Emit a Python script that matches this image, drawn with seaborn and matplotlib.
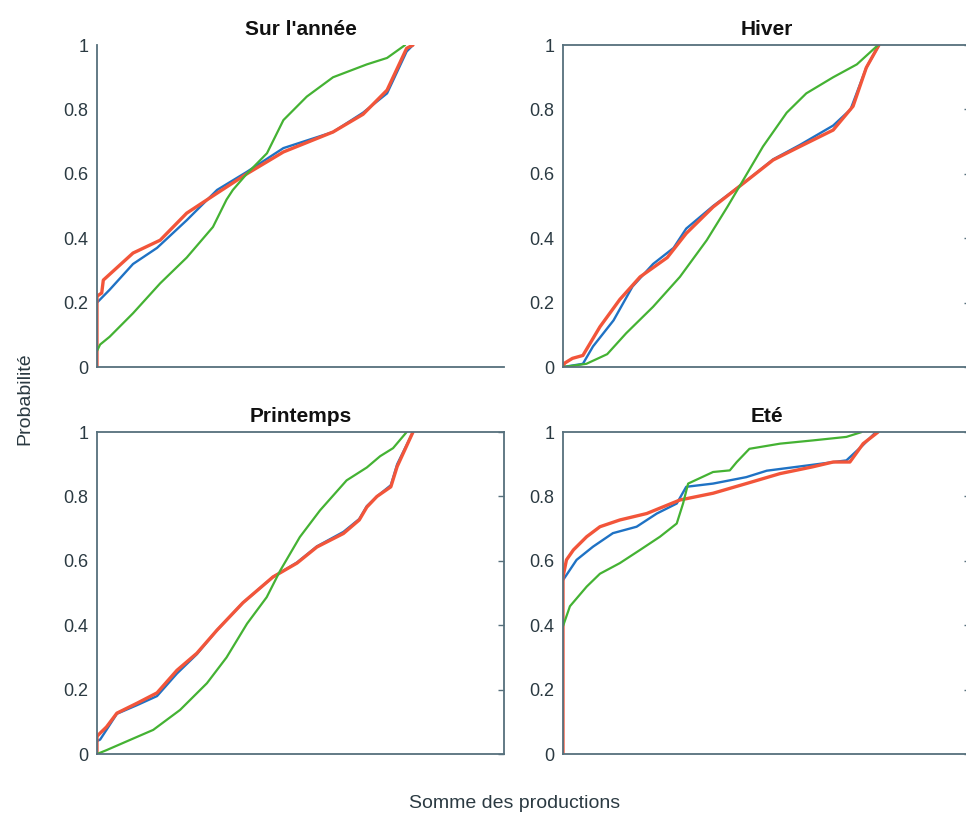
import pandas as pd
import numpy as np
import matplotlib.pyplot as plt
import seaborn as sns

sns.set_style("white")
plt.rcParams['font.family'] = ['Liberation Sans', 'DejaVu Sans']

titles = ["Sur l'année", "Hiver", "Printemps", "Eté"]

# Sur l'année
an_blue_x = [0.0, 0.04, 0.114, 0.19, 0.284, 0.38, 0.474, 0.59, 0.747, 0.842, 0.918, 0.98, 1.0]
an_blue_y = [0.20, 0.24, 0.32, 0.37, 0.456, 0.55, 0.606, 0.68, 0.73, 0.79, 0.85, 0.98, 1.0]
an_red_x = [0.0, 0.0, 0.015, 0.02, 0.114, 0.2, 0.284, 0.38, 0.474, 0.59, 0.747, 0.842, 0.918, 0.98, 1.0]
an_red_y = [0.0, 0.22, 0.23, 0.27, 0.354, 0.394, 0.478, 0.54, 0.60, 0.668, 0.73, 0.785, 0.86, 0.99, 1.0]
an_green_x = [0.0, 0.01, 0.04, 0.114, 0.2, 0.284, 0.367, 0.41, 0.43, 0.474, 0.538, 0.59, 0.664, 0.747, 0.854, 0.918, 0.975]
an_green_y = [0.05, 0.07, 0.094, 0.167, 0.26, 0.34, 0.435, 0.52, 0.55, 0.60, 0.664, 0.767, 0.84, 0.90, 0.94, 0.96, 1.0]

# Hiver
hi_blue_x = [0.0, 0.063, 0.095, 0.16, 0.22, 0.285, 0.35, 0.39, 0.475, 0.57, 0.665, 0.75, 0.855, 0.91, 0.96, 1.0]
hi_blue_y = [0.0, 0.01, 0.064, 0.145, 0.25, 0.32, 0.37, 0.43, 0.50, 0.57, 0.645, 0.69, 0.75, 0.80, 0.93, 1.0]
hi_red_x = [0.0, 0.005, 0.03, 0.063, 0.117, 0.18, 0.244, 0.33, 0.39, 0.475, 0.57, 0.665, 0.75, 0.855, 0.918, 0.96, 1.0]
hi_red_y = [0.0, 0.012, 0.027, 0.036, 0.125, 0.21, 0.28, 0.34, 0.415, 0.497, 0.57, 0.643, 0.685, 0.736, 0.81, 0.93, 1.0]
hi_green_x = [0.0, 0.074, 0.14, 0.2, 0.285, 0.37, 0.455, 0.52, 0.57, 0.633, 0.708, 0.77, 0.855, 0.93, 0.997]
hi_green_y = [0.0, 0.01, 0.04, 0.105, 0.187, 0.28, 0.394, 0.497, 0.58, 0.685, 0.79, 0.85, 0.90, 0.94, 1.0]

# Printemps
pr_blue_x = [0.0, 0.01, 0.03, 0.063, 0.127, 0.19, 0.253, 0.316, 0.38, 0.462, 0.557, 0.633, 0.696, 0.78, 0.83, 0.854, 0.886, 0.93, 0.95, 1.0]
pr_blue_y = [0.04, 0.045, 0.075, 0.125, 0.152, 0.18, 0.25, 0.31, 0.385, 0.47, 0.55, 0.595, 0.645, 0.69, 0.73, 0.77, 0.80, 0.835, 0.90, 1.0]
pr_red_x = [0.0, 0.0, 0.01, 0.03, 0.063, 0.127, 0.19, 0.253, 0.316, 0.38, 0.462, 0.557, 0.633, 0.696, 0.78, 0.83, 0.854, 0.886, 0.93, 0.95, 1.0]
pr_red_y = [0.0, 0.055, 0.065, 0.084, 0.127, 0.158, 0.19, 0.26, 0.313, 0.385, 0.47, 0.55, 0.593, 0.643, 0.685, 0.727, 0.767, 0.80, 0.83, 0.893, 1.0]
pr_green_x = [0.0, 0.03, 0.105, 0.178, 0.263, 0.348, 0.41, 0.475, 0.537, 0.58, 0.642, 0.706, 0.79, 0.854, 0.896, 0.937, 0.98]
pr_green_y = [0.0, 0.012, 0.044, 0.075, 0.137, 0.22, 0.30, 0.405, 0.487, 0.57, 0.674, 0.757, 0.85, 0.89, 0.925, 0.95, 1.0]

# Eté
et_blue_x = [0.0, 0.043, 0.095, 0.158, 0.233, 0.297, 0.36, 0.39, 0.475, 0.58, 0.645, 0.74, 0.897, 0.95, 0.99]
et_blue_y = [0.54, 0.603, 0.644, 0.686, 0.706, 0.747, 0.778, 0.83, 0.84, 0.86, 0.88, 0.892, 0.912, 0.96, 1.0]
et_red_x = [0.0, 0.0, 0.011, 0.033, 0.075, 0.117, 0.18, 0.265, 0.37, 0.475, 0.58, 0.687, 0.79, 0.855, 0.908, 0.95, 0.997]
et_red_y = [0.0, 0.55, 0.603, 0.634, 0.675, 0.706, 0.727, 0.747, 0.789, 0.81, 0.84, 0.871, 0.892, 0.907, 0.907, 0.964, 1.0]
et_green_x = [0.0, 0.022, 0.075, 0.117, 0.18, 0.244, 0.307, 0.36, 0.38, 0.396, 0.475, 0.528, 0.55, 0.59, 0.687, 0.79, 0.897, 0.945]
et_green_y = [0.397, 0.459, 0.52, 0.56, 0.593, 0.634, 0.675, 0.716, 0.778, 0.84, 0.876, 0.881, 0.907, 0.948, 0.964, 0.974, 0.985, 1.0]

panels = [
    (an_blue_x, an_blue_y, an_red_x, an_red_y, an_green_x, an_green_y),
    (hi_blue_x, hi_blue_y, hi_red_x, hi_red_y, hi_green_x, hi_green_y),
    (pr_blue_x, pr_blue_y, pr_red_x, pr_red_y, pr_green_x, pr_green_y),
    (et_blue_x, et_blue_y, et_red_x, et_red_y, et_green_x, et_green_y),
]

colors = {'blue': '#1f72c4', 'red': '#f2553a', 'green': '#44b233'}
widths = {'blue': 1.7, 'red': 2.4, 'green': 1.6}
axcol = '#56707c'
txtcol = '#2b3a42'

fig = plt.figure(figsize=(9.66, 8.18), dpi=100)
# axes positions in figure fraction
lefts = [0.1004, 0.5828, 0.1004, 0.5828]
bottoms = [0.5513, 0.5513, 0.0782, 0.0782]

for i, p in enumerate(panels):
    ax = fig.add_axes([lefts[i], bottoms[i], 0.4213, 0.3936])
    bx, by, rx, ry, gx, gy = p
    for name, xs, ys in [('blue', bx, by), ('red', rx, ry), ('green', gx, gy)]:
        df = pd.DataFrame({'x': xs, 'y': ys, 'order': range(len(xs))})
        sns.lineplot(data=df, x='x', y='y', sort=False, estimator=None,
                     color=colors[name], lw=widths[name], ax=ax)
    ax.set_xlim(0, 1.288)
    ax.set_ylim(0, 1)
    ax.set_xticks([])
    ax.set_yticks([0, 0.2, 0.4, 0.6, 0.8, 1])
    ax.set_yticklabels(['0', '0.2', '0.4', '0.6', '0.8', '1'])
    ax.set_xlabel('')
    ax.set_ylabel('')
    ax.tick_params(axis='y', direction='in', length=4, width=1, colors=axcol,
                   labelcolor=txtcol, labelsize=13, pad=6,
                   right=(i != 0))
    for s in ax.spines.values():
        s.set_color(axcol)
        s.set_linewidth(1.3)
    if i == 0:
        ax.spines['top'].set_visible(False)
        ax.spines['right'].set_visible(False)
    ax.set_title(titles[i], fontsize=15, fontweight='bold', color='#111111', pad=7)

fig.text(0.026, 0.513, 'Probabilité', rotation=90, ha='center', va='center',
         fontsize=14, color=txtcol)
fig.text(0.533, 0.018, 'Somme des productions', ha='center', va='center',
         fontsize=14, color=txtcol)

plt.savefig('out.png', dpi=100)
